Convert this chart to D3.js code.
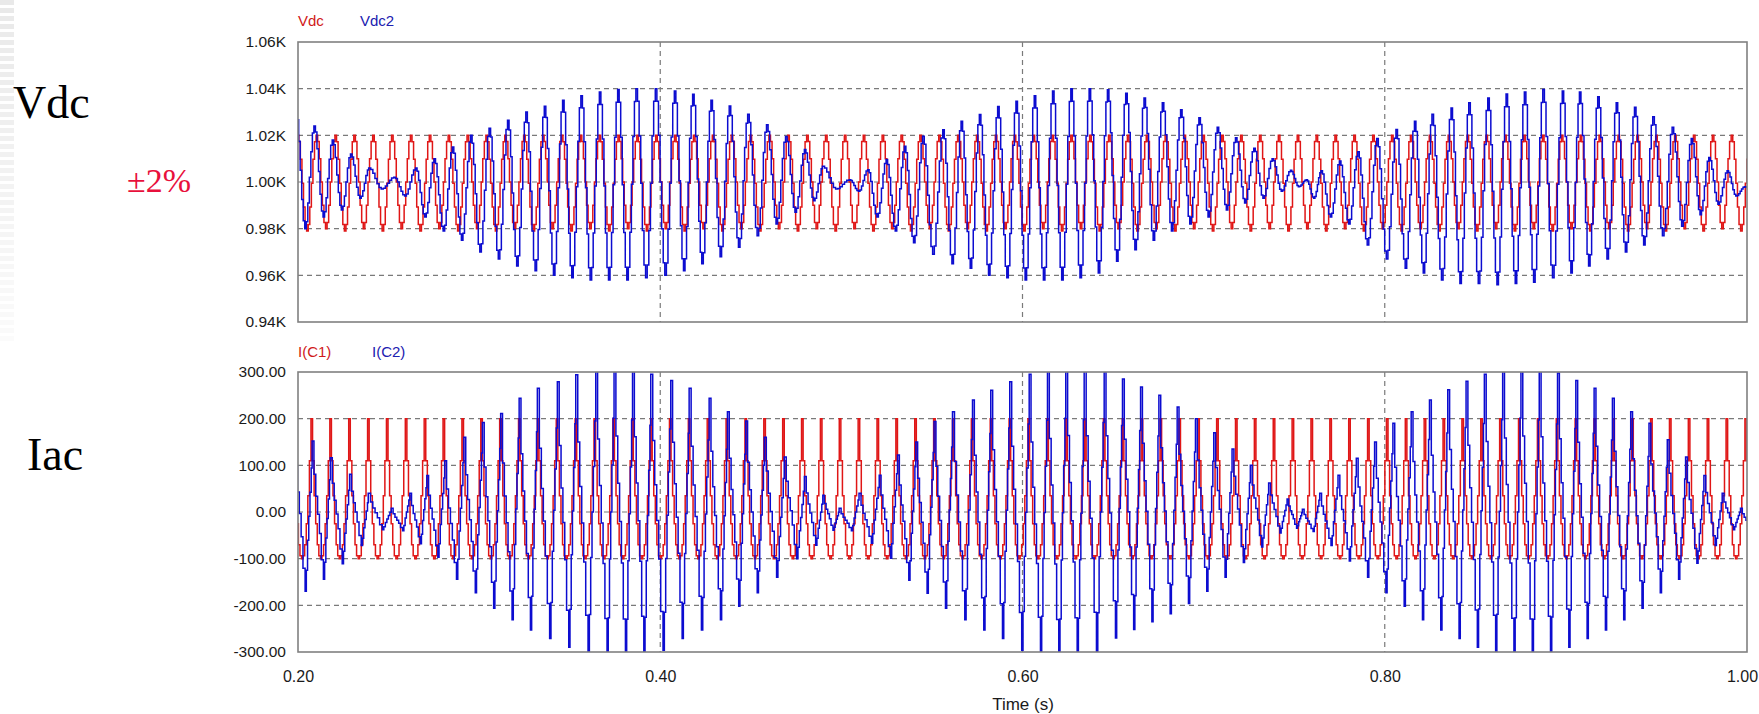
<!DOCTYPE html>
<html><head><meta charset="utf-8">
<script src="https://cdn.jsdelivr.net/npm/d3@7"></script>
<style>body{margin:0;background:#fff;overflow:hidden} svg{display:block}</style>
</head><body>
<svg id="chart" width="1759" height="714"></svg>
<script>
// ---------------- data ----------------
const timeTicks = [0.20, 0.40, 0.60, 0.80, 1.00];
const timeDomain = [0.20, 1.00];
const vdcTicks = [940, 960, 980, 1000, 1020, 1040, 1060];
const icTicks = [-300, -200, -100, 0, 100, 200, 300];
const vdcLegend = ["Vdc", "Vdc2"];
const icLegend = ["I(C1)", "I(C2)"];

// red traces: first crest time, crest spacing (s), crest and valley levels per cycle
const redStart = 0.2000, icRedStart = 0.2076, redPeriod = 0.010417;
const vdcPeak = [1020,1020,1020,1020,1020,1020,1020,1020,1020,1020,1020,1020,1020,1020,1020,1020,1020,1020,1020,1020,1020,1020,1020,1020,1020,1020,1020,1020,1020,1020,1020,1020,1020,1020,1020,1020,1020,1020,1020,1020,1020,1020,1020,1020,1020,1020,1020,1020,1020,1020,1020,1020,1020,1020,1020,1020,1020,1020,1020,1020,1020,1020,1020,1020,1020,1020,1020,1020,1020,1020,1020,1020,1020,1020,1020,1020,1020,1020,1020];
const vdcValley = [980,979,980,979,980,979,980,979,980,979,980,979,980,979,980,979,980,979,980,979,980,979,980,979,980,979,980,979,980,979,980,979,980,979,980,979,980,979,980,979,980,979,980,979,980,979,980,979,980,979,980,979,980,979,980,979,980,979,980,979,980,979,980,979,980,979,980,979,980,979,980,979,980,979,980,979,980,979,980];
const ic1Peak = [200,200,200,200,200,200,200,200,200,200,200,200,200,200,200,200,200,200,200,200,200,200,200,200,200,200,200,200,200,200,200,200,200,200,200,200,200,200,200,200,200,200,200,200,200,200,200,200,200,200,200,200,200,200,200,200,200,200,200,200,200,200,200,200,200,200,200,200,200,200,200,200,200,200,200,200,200,200,200];
const ic1Valley = [-100,-100,-100,-100,-100,-100,-100,-100,-100,-100,-100,-100,-100,-100,-100,-100,-100,-100,-100,-100,-100,-100,-100,-100,-100,-100,-100,-100,-100,-100,-100,-100,-100,-100,-100,-100,-100,-100,-100,-100,-100,-100,-100,-100,-100,-100,-100,-100,-100,-100,-100,-100,-100,-100,-100,-100,-100,-100,-100,-100,-100,-100,-100,-100,-100,-100,-100,-100,-100,-100,-100,-100,-100,-100,-100,-100,-100,-100,-100];

// Vdc2: crest times (s), crest levels, valley level after each crest (V)
const vdc2Times = [0.1991,0.2092,0.2193,0.2294,0.2396,0.2534,0.2653,0.2755,0.2856,0.2957,
  0.3059,0.3161,0.3262,0.3364,0.3465,0.3566,0.3668,0.3769,0.3870,0.3977,
  0.4082,0.4183,0.4284,0.4385,0.4487,0.4591,0.4696,0.4800,0.4901,0.5048,
  0.5149,0.5251,0.5352,0.5453,0.5564,0.5665,0.5766,0.5867,0.5968,0.6069,
  0.6170,0.6271,0.6372,0.6473,0.6574,0.6675,0.6776,0.6877,0.6978,0.7079,
  0.7180,0.7281,0.7382,0.7483,0.7570,0.7652,0.7754,0.7855,0.7960,0.8066,
  0.8168,0.8265,0.8370,0.8468,0.8573,0.8674,0.8775,0.8877,0.8984,0.9079,
  0.9180,0.9282,0.9383,0.9484,0.9591,0.9696,0.9793,0.9894,0.9990,1.0090];
const vdc2Peak = [1030,1024,1018,1012,1006,1002,1006,1010,1015,1020,
  1023,1026.5,1030,1032.5,1035,1037,1038.6,1039.6,1040,1040,
  1039,1037.6,1035,1032.6,1029,1024.5,1019.5,1013.9,1006.7,1001,
  1005.3,1009.6,1015.3,1019.6,1022.4,1026,1028.9,1032.4,1034.6,1037,
  1039,1040,1040,1039.5,1038,1036,1034,1031,1027.5,1023.5,
  1019,1014.5,1010,1005,1001,1004.8,1009,1013,1018.6,1022.5,
  1026,1029,1031.7,1034,1036,1037.7,1038.6,1039.6,1039,1038.6,
  1036.5,1034,1032,1028,1023.5,1018.6,1010.5,1004.8,998,1000];
const vdc2Valley = [980,985,988,993,997,994,985,979,975,970,
  967,964,962,960,959,958,958,958,959,960,
  962,965,968,972,977,982,987,992,997,996,
  985,979,974,969,965,963,960,959,958,958,
  958,959,961,966,971,975,979,982,985,988,
  991,993,996,998,993,985,982,973,967,963,
  961,958,956.5,956.5,956,956.5,957,959,961,964,
  967,970,973,977,981,986,990.5,994,996];

// I(C2): crest times (s), crest levels, valley level before the next crest (A)
const ic2Times = [0.1982,0.2083,0.2184,0.2290,0.2394,0.2520,0.2622,0.2716,0.2815,0.2921,
  0.3023,0.3124,0.3226,0.3327,0.3437,0.3539,0.3649,0.3750,0.3852,0.3953,
  0.4063,0.4165,0.4275,0.4376,0.4477,0.4580,0.4690,0.4801,0.4902,0.4993,
  0.5103,0.5214,0.5315,0.5416,0.5517,0.5619,0.5729,0.5830,0.5935,0.6042,
  0.6143,0.6244,0.6346,0.6456,0.6557,0.6657,0.6758,0.6859,0.6960,0.7061,
  0.7162,0.7263,0.7364,0.7465,0.7550,0.7646,0.7747,0.7848,0.7949,0.8050,
  0.8151,0.8252,0.8353,0.8454,0.8555,0.8656,0.8757,0.8858,0.8959,0.9060,
  0.9161,0.9262,0.9363,0.9464,0.9565,0.9666,0.9767,0.9868,0.9969,1.0070];
const ic2Peak = [185,152,116,81,40,8,40,78,110,160,
  192,211,244,265,279,294,305,315,310,295,
  282,265,244,215,195,160,118,76,36,8,
  40,79,122,150,194,215,240,261,279,295,
  308,315,310,300,285,268,250,225,200,170,
  135,100,62,28,6,40,79,115,150,190,
  215,240,262,280,295,308,315,310,298,282,
  265,244,215,190,155,118,78,40,8,40];
const ic2Valley = [-170,-144,-111,-72,-38,-40,-68,-97,-144,-173,
  -206,-231,-253,-271,-290,-305,-315,-318,-310,-296,
  -271,-253,-231,-202,-173,-140,-100,-71,-39,-40,
  -67,-99,-146,-174,-206,-231,-253,-271,-296,-310,
  -318,-315,-300,-270,-252,-235,-218,-196,-170,-140,
  -108,-75,-45,-35,-42,-72,-105,-140,-173,-202,
  -231,-253,-271,-290,-305,-315,-318,-310,-290,-271,
  -253,-231,-206,-173,-144,-110,-72,-38,-40];

// staircase levels (0 = valley, 1 = crest): six steps crest->valley, then six steps valley->crest
const sineSteps  = [1, .933, .75, .5, .25, .067, 0, .067, .25, .5, .75, .933];
const spikeSteps = [1, .7, .45, .25, .1, .02, 0, .02, .1, .25, .45, .7];
const ic2Steps   = [1, .76, .6, .47, .33, .14, 0, .14, .34, .5, .66, .82];

// ---------------- layout ----------------
const svg = d3.select("#chart");
const X0 = 298, X1 = 1747;
const panels = [
  {top: 42, bottom: 322, domain: [940, 1060], ticks: vdcTicks, fmt: v => (v / 1000).toFixed(2) + "K",
   legend: vdcLegend, legendX: [298, 360], legendY: 26, grid: [960, 980, 1000, 1020, 1040]},
  {top: 372, bottom: 652, domain: [-300, 300], ticks: icTicks, fmt: v => v.toFixed(2),
   legend: icLegend, legendX: [298, 372], legendY: 357, grid: [-200, -100, 0, 100, 200]}
];
const RED = "#e01616", BLUE = "#0c0cd0";

const x = d3.scaleLinear().domain(timeDomain).range([X0, X1]);

// faint striped strip along the left edge
const strip = svg.append("g");
for (let yy = 0; yy < 340; yy += 8) {
  strip.append("rect").attr("x", 0).attr("y", yy).attr("width", 14).attr("height", 5)
    .attr("fill", "#e9e9e9").attr("opacity", 1 - yy / 420);
}

// side captions
const serif = "Liberation Serif, Times New Roman, serif";
svg.append("text").attr("x", 13).attr("y", 118).attr("font-family", serif)
  .attr("font-size", 46).attr("fill", "#000").text("Vdc");
svg.append("text").attr("x", 127).attr("y", 192).attr("font-family", serif)
  .attr("font-size", 34).attr("fill", "#e8103c").text("±2%");
svg.append("text").attr("x", 27).attr("y", 470).attr("font-family", serif)
  .attr("font-size", 46).attr("fill", "#000").text("Iac");

// alternating crest / valley list; valley sits at fraction `frac` of the gap between crests
function extremes(times, peaks, valleys, frac) {
  const out = [];
  for (let i = 0; i < times.length; i++) {
    out.push({t: times[i], v: peaks[i], crest: true});
    if (i < times.length - 1 && i < valleys.length)
      out.push({t: times[i] + frac * (times[i + 1] - times[i]), v: valleys[i], crest: false});
  }
  return out;
}
// crest times on a regular grid for the red traces
const gridTimes = (start, period, n) => d3.range(n).map(k => start + (k - 1) * period);

// staircase samples between successive extremes
function staircase(ext, steps) {
  const pts = [];
  for (let i = 0; i < ext.length - 1; i++) {
    const a = ext[i], b = ext[i + 1], d = (b.t - a.t) / 6;
    const hi = a.crest ? a.v : b.v, lo = a.crest ? b.v : a.v;
    for (let j = 0; j < 6; j++) {
      const u = a.crest ? steps[j] : steps[6 + j];
      pts.push([a.t + j * d - d / 2, lo + u * (hi - lo)]);
    }
  }
  return pts;
}

const traces = [
  [
    {pts: staircase(extremes(gridTimes(redStart, redPeriod, vdcPeak.length), vdcPeak, vdcValley, 0.5), sineSteps), color: RED},
    {pts: staircase(extremes(vdc2Times, vdc2Peak, vdc2Valley, 0.5), sineSteps), color: BLUE}
  ],
  [
    {pts: staircase(extremes(gridTimes(icRedStart, redPeriod, ic1Peak.length), ic1Peak, ic1Valley, 0.5), spikeSteps), color: RED},
    {pts: staircase(extremes(ic2Times, ic2Peak, ic2Valley, 0.6), ic2Steps), color: BLUE}
  ]
];

const labelFont = "Liberation Sans, Arial, sans-serif";

panels.forEach((p, pi) => {
  const y = d3.scaleLinear().domain(p.domain).range([p.bottom, p.top]);
  const g = svg.append("g");
  const clipId = "clip" + pi;
  svg.append("clipPath").attr("id", clipId).append("rect")
    .attr("x", X0).attr("y", p.top).attr("width", X1 - X0).attr("height", p.bottom - p.top);

  // grid
  const grid = g.append("g").attr("stroke", "#7a7a7a").attr("stroke-width", 1.2).attr("stroke-dasharray", "5,4");
  grid.selectAll("line.h").data(p.grid).join("line").attr("class", "h")
    .attr("x1", X0).attr("x2", X1).attr("y1", d => y(d)).attr("y2", d => y(d));
  grid.selectAll("line.v").data(timeTicks.slice(1, -1)).join("line").attr("class", "v")
    .attr("x1", d => x(d)).attr("x2", d => x(d)).attr("y1", p.top).attr("y2", p.bottom);

  // traces
  const line = d3.line().x(d => x(d[0])).y(d => y(d[1])).curve(d3.curveStepAfter);
  const tg = g.append("g").attr("clip-path", `url(#${clipId})`);
  traces[pi].forEach(tr => {
    tg.append("path").attr("d", line(tr.pts)).attr("fill", "none")
      .attr("stroke", tr.color).attr("stroke-width", 1.5).attr("stroke-linejoin", "miter");
  });

  // frame
  g.append("rect").attr("x", X0).attr("y", p.top).attr("width", X1 - X0).attr("height", p.bottom - p.top)
    .attr("fill", "none").attr("stroke", "#808080").attr("stroke-width", 1.6);

  // y axis labels
  const ax = g.append("g").attr("transform", `translate(${X0},0)`)
    .call(d3.axisLeft(y).tickValues(p.ticks).tickFormat(p.fmt).tickSize(0).tickPadding(12));
  ax.select(".domain").remove();
  ax.selectAll("text").attr("font-family", labelFont).attr("font-size", 15.5).attr("fill", "#1a1a1a");

  // legend
  p.legend.forEach((name, i) => {
    g.append("text").attr("x", p.legendX[i]).attr("y", p.legendY).attr("font-family", labelFont)
      .attr("font-size", 15).attr("fill", i === 0 ? "#d01818" : "#2020b0").text(name);
  });

  if (pi === 1) {
    const xa = g.append("g").attr("transform", `translate(0,${p.bottom})`)
      .call(d3.axisBottom(x).tickValues(timeTicks).tickFormat(d3.format(".2f")).tickSize(0).tickPadding(19));
    xa.select(".domain").remove();
    xa.selectAll("text").attr("font-family", labelFont).attr("font-size", 16).attr("fill", "#1a1a1a");
    xa.selectAll(".tick").filter(d => d === 1.0).select("text").attr("dx", -5);
    g.append("text").attr("x", 1023).attr("y", 710).attr("text-anchor", "middle")
      .attr("font-family", labelFont).attr("font-size", 17).attr("fill", "#1a1a1a").text("Time (s)");
  }
});
</script>
</body></html>
